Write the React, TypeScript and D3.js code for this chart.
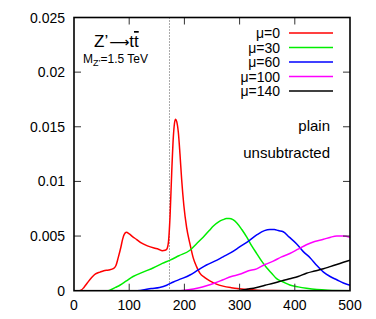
import React from "react";
import * as d3 from "d3";

const xTicks = [0, 100, 200, 300, 400, 500];
const yTicks = [0, 0.005, 0.01, 0.015, 0.02, 0.025];
const yTickLabels = ["0", "0.005", "0.01", "0.015", "0.02", "0.025"];
const topQuarkMass = 173;

const seriesNames = ["μ=0", "μ=30", "μ=60", "μ=100", "μ=140"];
const seriesColors = ["#ff0000", "#00ee00", "#0000ff", "#ff00ff", "#000000"];

const mu0: [number, number][] = [
  [0, 0], [10, 0], [13, 0.00005], [18, 0.0003], [24, 0.0007], [32, 0.0012], [39, 0.00153],
  [47, 0.0017], [54, 0.00183], [63, 0.0019], [72, 0.00205], [76, 0.0023], [80, 0.003],
  [85, 0.004], [88, 0.0047], [91, 0.00516], [95, 0.00535], [100, 0.0052], [106, 0.00495],
  [113, 0.0047], [121, 0.0044], [133, 0.0041], [145, 0.0039], [153, 0.0038], [160, 0.00366],
  [165, 0.0037], [168, 0.0038], [171, 0.0044], [174, 0.0068], [177, 0.0108], [180, 0.0141],
  [182, 0.0153], [184, 0.0157], [186, 0.0155], [189, 0.0145], [192, 0.0125], [195, 0.0102],
  [199, 0.0078], [204, 0.0058], [210, 0.0043], [216, 0.003], [222, 0.0022], [228, 0.0016],
  [237, 0.0012], [246, 0.0009], [258, 0.0006], [270, 0.00042], [285, 0.00028], [300, 0.00018],
  [315, 0.0001], [331, 0.00005], [360, 0.00002], [400, 0], [500, 0],
];
const mu30: [number, number][] = [
  [0, 0], [60, 0], [65, 0.00005], [75, 0.0003], [83, 0.0005], [95, 0.0009], [107, 0.0013],
  [125, 0.0017], [144, 0.0021], [160, 0.0025], [174, 0.0028], [190, 0.0032], [210, 0.0037],
  [222, 0.0043], [234, 0.0049], [245, 0.0055], [252, 0.0059], [262, 0.0063], [270, 0.0065],
  [276, 0.0066], [281, 0.0066], [288, 0.0065], [295, 0.0062], [304, 0.0056], [313, 0.0049],
  [322, 0.0041], [331, 0.0034], [340, 0.0027], [349, 0.0021], [358, 0.0016], [367, 0.0011],
  [379, 0.0008], [391, 0.00052], [406, 0.00035], [421, 0.00022], [440, 0.0001], [460, 0.00004],
  [500, 0],
];
const mu60: [number, number][] = [
  [0, 0], [110, 0], [120, 0.00003], [140, 0.0002], [155, 0.0003], [168, 0.0005], [180, 0.0008],
  [195, 0.0011], [210, 0.00144], [225, 0.0019], [240, 0.00235], [255, 0.0027], [270, 0.0031],
  [285, 0.0035], [300, 0.004], [315, 0.0045], [331, 0.0051], [345, 0.0055], [355, 0.0056],
  [363, 0.0056], [370, 0.0055], [379, 0.0054], [390, 0.0049], [403, 0.0043], [415, 0.0036],
  [428, 0.003], [440, 0.0023], [452, 0.0017], [464, 0.0013], [476, 0.001], [488, 0.0007],
  [500, 0.0005],
];
const mu100: [number, number][] = [
  [0, 0], [190, 0], [200, 0.00005], [210, 0.0001], [225, 0.00025], [240, 0.00045], [255, 0.0007],
  [270, 0.001], [285, 0.0013], [300, 0.0015], [315, 0.0018], [331, 0.002], [346, 0.0024],
  [361, 0.0027], [376, 0.0031], [391, 0.0034], [406, 0.0038], [421, 0.0042], [436, 0.0045],
  [452, 0.0047], [465, 0.0049], [476, 0.005], [488, 0.005], [500, 0.0049],
];
const mu140: [number, number][] = [
  [0, 0], [290, 0], [300, 0.00003], [315, 0.00015], [331, 0.0003], [346, 0.0005], [361, 0.00068],
  [376, 0.0009], [391, 0.0011], [406, 0.0013], [421, 0.0016], [436, 0.0018], [452, 0.002],
  [464, 0.0022], [476, 0.0024], [488, 0.0026], [500, 0.0028],
];
const allSeries = [mu0, mu30, mu60, mu100, mu140];

const W = 376;
const H = 319;
const L = 74;
const R = 350;
const T = 17.5;
const B = 290.7;

export default function App() {
  const x = d3.scaleLinear().domain([0, 500]).range([L, R]);
  const y = d3.scaleLinear().domain([0, 0.025]).range([B, T]);
  const line = d3
    .line<[number, number]>()
    .x((d) => x(d[0]))
    .y((d) => y(d[1]))
    .curve(d3.curveMonotoneX);
  const font = "'Liberation Sans', Arial, sans-serif";
  const tickLen = 7;
  const tickColor = "#333";

  return (
    <svg
      width={W}
      height={H}
      style={{ position: "absolute", left: 0, top: 0, background: "#fff" }}
      fontFamily={font}
    >
      <defs>
        <clipPath id="plot">
          <rect x={L} y={T} width={R - L} height={B - T} />
        </clipPath>
      </defs>
      <rect x={0} y={0} width={W} height={H} fill="#fff" />
      {/* top quark mass dotted line */}
      <line
        x1={x(topQuarkMass)}
        x2={x(topQuarkMass)}
        y1={T}
        y2={B}
        stroke="#555"
        strokeWidth={1}
        strokeDasharray="1,2"
      />
      <g clipPath="url(#plot)">
        {allSeries.map((s, i) => (
          <path key={i} d={line(s) || ""} fill="none" stroke={seriesColors[i]} strokeWidth={1.5} />
        ))}
      </g>
      {/* ticks */}
      {yTicks.map((t, i) => (
        <g key={"y" + i}>
          {i > 0 && i < yTicks.length - 1 && (
            <>
              <line x1={L} x2={L + tickLen} y1={y(t)} y2={y(t)} stroke={tickColor} />
              <line x1={R} x2={R - tickLen} y1={y(t)} y2={y(t)} stroke={tickColor} />
            </>
          )}
          <text x={65} y={y(t) + 5} textAnchor="end" fontSize={14} fill="#000">
            {yTickLabels[i]}
          </text>
        </g>
      ))}
      {xTicks.map((t, i) => (
        <g key={"x" + i}>
          {i > 0 && i < xTicks.length - 1 && (
            <>
              <line x1={x(t)} x2={x(t)} y1={B} y2={B - tickLen} stroke={tickColor} />
              <line x1={x(t)} x2={x(t)} y1={T} y2={T + tickLen} stroke={tickColor} />
            </>
          )}
          <text x={x(t)} y={310} textAnchor="middle" fontSize={14} fill="#000">
            {t}
          </text>
        </g>
      ))}
      {/* frame */}
      <rect x={L} y={T} width={R - L} height={B - T} fill="none" stroke="#000" strokeWidth={1.6} />
      {/* legend */}
      {seriesNames.map((n, i) => {
        const ly = 33 + i * 14.5;
        return (
          <g key={"lg" + i}>
            <text x={280} y={ly + 5} textAnchor="end" fontSize={14} fill="#000">
              {n}
            </text>
            <line x1={289} x2={333} y1={ly} y2={ly} stroke={seriesColors[i]} strokeWidth={1.5} />
          </g>
        );
      })}
      <text x={330} y={131} textAnchor="end" fontSize={15} fill="#000">
        plain
      </text>
      <text x={330} y={158} textAnchor="end" fontSize={15} fill="#000">
        unsubtracted
      </text>
      {/* process label */}
      <text x={94} y={47} fontSize={17} fill="#000">
        Z’
        <tspan fontFamily="'DejaVu Sans'" fontSize={14} dx={1}>⟶</tspan>
        t<tspan style={{ textDecoration: "overline" }}>t</tspan>
      </text>
      <text x={83} y={63} fontSize={12} fill="#000">
        M
        <tspan fontSize={9} dy={3}>
          Z’
        </tspan>
        <tspan dy={-3}>=1.5 TeV</tspan>
      </text>
    </svg>
  );
}
